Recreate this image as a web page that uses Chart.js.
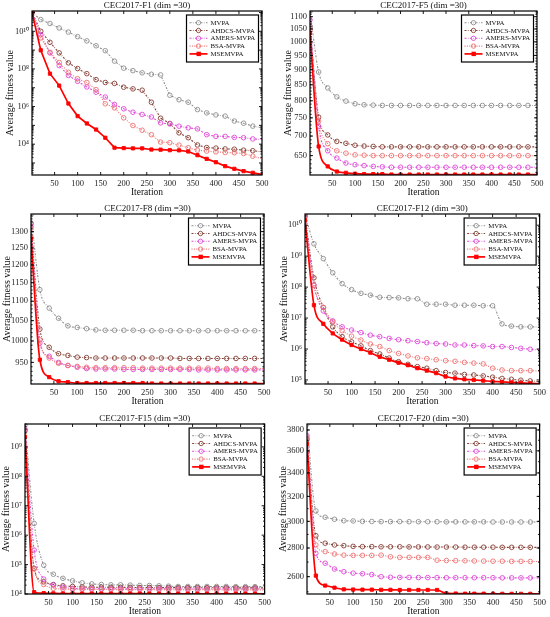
<!DOCTYPE html>
<html>
<head>
<meta charset="utf-8">
<script src="https://cdn.jsdelivr.net/npm/chart.js@4.4.1/dist/chart.umd.min.js"></script>
<style>
  body { margin: 0; background: #fff; width: 550px; height: 617px; position: relative; overflow: hidden; }
  canvas { position: absolute; }
</style>
</head>
<body>
<canvas id="c1" width="275" height="200" style="left:0;top:0"></canvas>
<canvas id="c2" width="275" height="200" style="left:275px;top:0"></canvas>
<canvas id="c3" width="275" height="208" style="left:0;top:200px"></canvas>
<canvas id="c4" width="275" height="208" style="left:275px;top:200px"></canvas>
<canvas id="c5" width="275" height="212" style="left:0;top:405px"></canvas>
<canvas id="c6" width="275" height="212" style="left:275px;top:405px"></canvas>
<script>
// ====== DATA ======
const iters = [1, 20, 40, 60, 80, 100, 120, 140, 160, 180, 200, 220, 240, 260, 280, 300, 320, 340, 360, 380, 400, 420, 440, 460, 480, 500]
const xTicks = [50, 100, 150, 200, 250, 300, 350, 400, 450, 500]
const algoNames = ['MVPA', 'AHDCS-MVPA', 'AMERS-MVPA', 'BSA-MVPA', 'MSEMVPA']

// F1
const f1Mvpa = [1e11, 4.2e10, 2.6e10, 1.5e10, 9.1e9, 5.2e9, 3.1e9, 1.7e9, 9.3e8, 2.6e8, 1.1e8, 8.1e7, 6.2e7, 5.2e7, 4.8e7, 4.0e6, 2.3e6, 1.7e6, 6.9e5, 4.6e5, 3.6e5, 3.1e5, 1.7e5, 1.3e5, 9.1e4, 7.4e4]
const f1Ahdcs = [1e11, 1e10, 2.6e9, 7.1e8, 2.1e8, 1.05e8, 5.6e7, 2.7e7, 1.9e7, 1.7e7, 1.07e7, 8.7e6, 7.4e6, 1.7e6, 2.4e5, 1.26e5, 4.0e4, 2.2e4, 9.1e3, 6.6e3, 6.2e3, 5.6e3, 5.4e3, 4.8e3, 4.5e3, 3.9e3]
const f1Amers = [1e11, 6.6e9, 7.1e8, 1.5e8, 4.5e7, 2.2e7, 1.1e7, 5.8e6, 3.2e6, 1.3e6, 7.6e5, 5.0e5, 3.8e5, 2.8e5, 1.35e5, 1.2e5, 9.1e4, 7.4e4, 6.5e4, 3.2e4, 2.6e4, 2.6e4, 2.3e4, 2.2e4, 1.9e4, 1.8e4]
const f1Bsa = [1e11, 4.5e9, 7.6e8, 2.2e8, 6.6e7, 3.0e7, 1.9e7, 7.9e6, 1.4e6, 8.5e5, 2.5e5, 9.8e4, 5.5e4, 3.2e4, 1.3e4, 1.2e4, 8.9e3, 6.5e3, 4.8e3, 4.3e3, 3.9e3, 3.6e3, 3.5e3, 3.2e3, 2.3e3, 1.7e3]
const f1Msem = [1e11, 9.8e8, 5.6e7, 1.3e7, 1.45e6, 3.1e5, 1.26e5, 6.0e4, 2.2e4, 6.5e3, 6.2e3, 6.0e3, 6.0e3, 5.2e3, 5.1e3, 4.8e3, 4.7e3, 4.1e3, 2.6e3, 1.66e3, 1.1e3, 680, 490, 370, 300, 245]
const f1YTicks = [1e4, 1e6, 1e8, 1e10]

// F5
const f5Mvpa = [1122, 892, 840, 812, 799, 791, 788, 787, 786, 786, 786, 786, 786, 786, 786, 786, 786, 786, 786, 786, 786, 786, 786, 786, 786, 786]
const f5Ahdcs = [1060, 752, 703, 686, 681, 676, 674, 673, 672, 672, 672, 672, 672, 672, 672, 672, 672, 672, 672, 672, 672, 672, 672, 672, 672, 672]
const f5Amers = [1087, 726, 662, 644, 632, 628, 626, 624, 623, 622, 622, 622, 622, 622, 622, 622, 622, 622, 622, 622, 622, 622, 622, 622, 622, 622]
const f5Bsa = [1045, 741, 680, 662, 656, 652, 651, 650, 650, 650, 650, 650, 650, 650, 650, 650, 650, 650, 650, 650, 650, 650, 650, 650, 650, 650]
const f5Msem = [1035, 673, 624, 612, 609, 607, 606, 606, 606, 605, 605, 605, 605, 605, 605, 605, 605, 605, 605, 605, 605, 605, 605, 605, 605, 605]
const f5YTicks = [650, 700, 750, 800, 850, 900, 950, 1000, 1050, 1100]

// F8
const f8Mvpa = [1353, 1131, 1082, 1056, 1037, 1033, 1030, 1027, 1026, 1026, 1026, 1026, 1025, 1025, 1025, 1025, 1025, 1025, 1025, 1025, 1025, 1025, 1025, 1025, 1025, 1025]
const f8Ahdcs = [1326, 1029, 985, 970, 966, 962, 961, 960, 960, 960, 960, 960, 960, 960, 960, 960, 959, 959, 959, 959, 959, 959, 959, 959, 959, 959]
const f8Amers = [1317, 995, 964, 950, 943, 939, 936, 935, 935, 935, 934, 934, 934, 934, 934, 934, 934, 934, 933, 933, 933, 933, 933, 933, 933, 933]
const f8Bsa = [1310, 1003, 960, 948, 943, 941, 939, 938, 938, 938, 938, 938, 937, 937, 937, 937, 937, 937, 937, 937, 936, 936, 936, 936, 936, 936]
const f8Msem = [1279, 956, 917, 908, 906, 904, 904, 904, 904, 904, 904, 904, 904, 903, 903, 903, 903, 903, 903, 903, 903, 903, 903, 903, 903, 903]
const f8YTicks = [950, 1000, 1050, 1100, 1150, 1200, 1250, 1300]

// F12
const f12Mvpa = [2.2e10, 2.5e9, 8.3e8, 2.9e8, 1.3e8, 8.3e7, 6.3e7, 5.5e7, 4.7e7, 4.6e7, 4.5e7, 4.2e7, 4.2e7, 2.8e7, 2.8e7, 2.8e7, 2.6e7, 2.6e7, 2.6e7, 2.5e7, 2.5e7, 6.5e6, 5.5e6, 5.2e6, 5.2e6, 5.1e6]
const f12Ahdcs = [1.95e10, 2.0e8, 2.2e7, 5.2e6, 2.5e6, 1.7e6, 1.26e6, 8.9e5, 6.9e5, 5.1e5, 3.9e5, 3.2e5, 2.7e5, 2.4e5, 2.0e5, 1.74e5, 1.66e5, 1.5e5, 1.45e5, 1.35e5, 1.23e5, 1.12e5, 1.05e5, 9.8e4, 9.3e4, 8.9e4]
const f12Amers = [1.95e10, 1.15e8, 1.7e7, 8.1e6, 5.2e6, 4.1e6, 3.4e6, 2.8e6, 2.5e6, 2.2e6, 2.0e6, 1.86e6, 1.74e6, 1.6e6, 1.5e6, 1.45e6, 1.35e6, 1.35e6, 1.29e6, 1.26e6, 1.2e6, 1.2e6, 1.12e6, 1.05e6, 9.8e5, 9.3e5]
const f12Bsa = [1.95e10, 1.15e8, 2.2e7, 7.6e6, 3.9e6, 2.6e6, 1.95e6, 1.45e6, 1.2e6, 8.9e5, 7.2e5, 6.0e5, 5.2e5, 4.9e5, 4.5e5, 4.2e5, 4.0e5, 3.7e5, 3.5e5, 3.3e5, 2.4e5, 2.1e5, 2.0e5, 2.0e5, 2.0e5, 1.9e5]
const f12Msem = [1.45e10, 2.6e7, 6.5e6, 3.2e6, 2.0e6, 1.35e6, 1.0e6, 7.6e5, 5.6e5, 4.5e5, 3.6e5, 3.0e5, 2.4e5, 2.0e5, 1.66e5, 1.29e5, 1.12e5, 1.05e5, 1.0e5, 9.5e4, 8.9e4, 8.7e4, 8.3e4, 8.1e4, 7.8e4, 7.6e4]
const f12YTicks = [1e5, 1e6, 1e7, 1e8, 1e9, 1e10]

// F15
const f15Mvpa = [5.5e9, 2.5e6, 9.5e4, 4.7e4, 3.4e4, 2.8e4, 2.4e4, 2.2e4, 2.1e4, 2.05e4, 2.05e4, 2.0e4, 1.95e4, 1.95e4, 1.9e4, 1.85e4, 1.8e4, 1.8e4, 1.8e4, 1.8e4, 1.8e4, 1.8e4, 1.78e4, 1.78e4, 1.78e4, 1.77e4]
const f15Ahdcs = [3.7e9, 7.4e4, 2.6e4, 2.1e4, 1.9e4, 1.8e4, 1.74e4, 1.7e4, 1.7e4, 1.68e4, 1.68e4, 1.67e4, 1.66e4, 1.66e4, 1.65e4, 1.65e4, 1.64e4, 1.64e4, 1.64e4, 1.63e4, 1.63e4, 1.63e4, 1.62e4, 1.62e4, 1.62e4, 1.62e4]
const f15Amers = [4.0e9, 3.1e5, 3.2e4, 2.0e4, 1.7e4, 1.55e4, 1.5e4, 1.5e4, 1.5e4, 1.5e4, 1.5e4, 1.49e4, 1.49e4, 1.49e4, 1.49e4, 1.49e4, 1.48e4, 1.48e4, 1.48e4, 1.48e4, 1.48e4, 1.48e4, 1.48e4, 1.48e4, 1.48e4, 1.48e4]
const f15Bsa = [3.4e9, 7.1e4, 2.1e4, 1.55e4, 1.48e4, 1.45e4, 1.44e4, 1.43e4, 1.42e4, 1.42e4, 1.41e4, 1.41e4, 1.4e4, 1.4e4, 1.4e4, 1.4e4, 1.39e4, 1.39e4, 1.39e4, 1.39e4, 1.39e4, 1.38e4, 1.38e4, 1.38e4, 1.38e4, 1.38e4]
const f15Msem = [2.2e9, 1.15e4, 1.07e4, 1.05e4, 1.04e4, 1.04e4, 1.03e4, 1.03e4, 1.03e4, 1.03e4, 1.03e4, 1.03e4, 1.03e4, 1.02e4, 1.02e4, 1.02e4, 1.02e4, 1.02e4, 1.02e4, 1.02e4, 1.02e4, 1.02e4, 1.02e4, 1.02e4, 1.02e4, 1.02e4]
const f15YTicks = [1e4, 1e5, 1e6, 1e7, 1e8, 1e9]

// F20
const f20Mvpa = [3859, 3082, 3032, 3016, 3005, 3003, 3000, 2999, 2998, 2998, 2998, 2997, 2997, 2997, 2997, 2996, 2996, 2996, 2996, 2996, 2995, 2995, 2995, 2995, 2995, 2995]
const f20Ahdcs = [3709, 2891, 2835, 2822, 2817, 2812, 2810, 2810, 2809, 2809, 2809, 2808, 2808, 2808, 2807, 2807, 2807, 2806, 2806, 2806, 2806, 2805, 2805, 2805, 2805, 2805]
const f20Amers = [3744, 2762, 2692, 2652, 2634, 2624, 2620, 2614, 2600, 2596, 2595, 2595, 2594, 2594, 2594, 2593, 2593, 2593, 2593, 2593, 2593, 2592, 2592, 2592, 2592, 2592]
const f20Bsa = [3720, 2822, 2774, 2757, 2749, 2747, 2747, 2747, 2749, 2737, 2733, 2733, 2733, 2733, 2713, 2711, 2710, 2709, 2708, 2707, 2706, 2706, 2705, 2705, 2704, 2704]
const f20Msem = [3665, 2607, 2541, 2527, 2516, 2515, 2514, 2514, 2513, 2513, 2512, 2512, 2512, 2512, 2512, 2490, 2489, 2488, 2488, 2488, 2487, 2487, 2487, 2487, 2487, 2487]
const f20YTicks = [2600, 2800, 3000, 3200, 3400, 3600, 3800]

// ====== STYLE ======
const SERIF = "'Liberation Serif', 'Times New Roman', serif"
Chart.defaults.font.family = SERIF
Chart.defaults.color = '#1f1f1f'

const seriesStyle = [
    { color: '#8e8e8e', dash: [2, 1.4, 0.7, 1.4], width: 1.1, point: 'circle', filled: false },
    { color: '#874238', dash: [2, 1.4, 0.7, 1.4], width: 1.1, point: 'circle', filled: false },
    { color: '#e04ad8', dash: [2, 1.4, 0.7, 1.4], width: 1.1, point: 'circle', filled: false },
    { color: '#f07474', dash: [1, 1.4], width: 1.1, point: 'circle', filled: false },
    { color: '#ff0000', dash: [], width: 1.7, point: 'rect', filled: true },
]

const SUP = { 0: '⁰', 1: '¹', 2: '²', 3: '³', 4: '⁴', 5: '⁵', 6: '⁶', 7: '⁷', 8: '⁸', 9: '⁹' }
const powLabel = (v) => '10' + String(Math.round(Math.log10(v))).split('').map((d) => SUP[d]).join('')

// ====== PANELS ======
const panels = [
    { id: 'c1', title: 'CEC2017-F1 (dim =30)', series: [f1Mvpa, f1Ahdcs, f1Amers, f1Bsa, f1Msem],
      yMin: 230, yMax: 1.2e11, yTicks: f1YTicks, decades: true, smooth: false,
      area: { l: 32, r: 262, t: 11, b: 175 }, yTitleX: 10 },
    { id: 'c2', title: 'CEC2017-F5 (dim =30)', series: [f5Mvpa, f5Ahdcs, f5Amers, f5Bsa, f5Msem],
      yMin: 604, yMax: 1124, yTicks: f5YTicks, minorStep: 10, smooth: true,
      area: { l: 35, r: 262, t: 11, b: 175 }, yTitleX: 13 },
    { id: 'c3', title: 'CEC2017-F8 (dim =30)', series: [f8Mvpa, f8Ahdcs, f8Amers, f8Bsa, f8Msem],
      yMin: 902, yMax: 1356, yTicks: f8YTicks, minorStep: 10, smooth: true,
      area: { l: 31, r: 264, t: 14, b: 184 }, yTitleX: 7 },
    { id: 'c4', title: 'CEC2017-F12 (dim =30)', series: [f12Mvpa, f12Ahdcs, f12Amers, f12Bsa, f12Msem],
      yMin: 7.4e4, yMax: 2.3e10, yTicks: f12YTicks, decades: true, smooth: true,
      area: { l: 30, r: 266, t: 14, b: 184 }, yTitleX: 9 },
    { id: 'c5', title: 'CEC2017-F15 (dim =30)', series: [f15Mvpa, f15Ahdcs, f15Amers, f15Bsa, f15Msem],
      yMin: 1e4, yMax: 6e9, yTicks: f15YTicks, decades: true, smooth: true,
      area: { l: 25, r: 266, t: 19, b: 189 }, yTitleX: 6 },
    { id: 'c6', title: 'CEC2017-F20 (dim =30)', series: [f20Mvpa, f20Ahdcs, f20Amers, f20Bsa, f20Msem],
      yMin: 2486, yMax: 3859, yTicks: f20YTicks, minorStep: 100, smooth: true,
      area: { l: 32, r: 266, t: 19, b: 189 }, yTitleX: 8 },
]

// ====== MATLAB-LIKE FRAME, TICKS, TITLES, LEGEND ======
const matlabFrame = {
    id: 'matlabFrame',
    afterDraw(chart) {
        const p = chart.options.plugins.matlabFrame
        const { ctx, chartArea: a } = chart
        const x = chart.scales.x
        const y = chart.scales.y
        ctx.save()
        ctx.strokeStyle = '#000'
        ctx.lineWidth = 0.9

        const tickX = (v, len) => {
            const px = x.getPixelForValue(v)
            ctx.beginPath()
            ctx.moveTo(px, a.bottom); ctx.lineTo(px, a.bottom - len)
            ctx.moveTo(px, a.top); ctx.lineTo(px, a.top + len)
            ctx.stroke()
        }
        const tickY = (v, len) => {
            if (v < p.yMin || v > p.yMax) return
            const py = y.getPixelForValue(v)
            ctx.beginPath()
            ctx.moveTo(a.left, py); ctx.lineTo(a.left + len, py)
            ctx.moveTo(a.right, py); ctx.lineTo(a.right - len, py)
            ctx.stroke()
        }
        xTicks.forEach((v) => tickX(v, 3))
        if (p.decades) {
            const e0 = Math.floor(Math.log10(p.yMin))
            const e1 = Math.ceil(Math.log10(p.yMax))
            for (let e = e0; e <= e1; e++) {
                for (let k = 1; k <= 9; k++) tickY(k * Math.pow(10, e), k === 1 ? 3 : 1.6)
            }
        } else {
            p.yTicks.forEach((v) => tickY(v, 3))
            for (let v = Math.ceil(p.yMin / p.minorStep) * p.minorStep; v <= p.yMax; v += p.minorStep) tickY(v, 1.6)
        }

        // box
        ctx.lineWidth = 1.2
        ctx.strokeRect(a.left, a.top, a.right - a.left, a.bottom - a.top)

        // titles
        ctx.fillStyle = '#111'
        ctx.textAlign = 'center'
        ctx.textBaseline = 'alphabetic'
        ctx.font = `9px ${SERIF}`
        ctx.fillText(p.title, (a.left + a.right) / 2, a.top - 3)
        ctx.textBaseline = 'middle'
        ctx.font = `9.5px ${SERIF}`
        ctx.fillText('Iteration', (a.left + a.right) / 2, a.bottom + 17)
        ctx.save()
        ctx.translate(p.yTitleX, (a.top + a.bottom) / 2)
        ctx.rotate(-Math.PI / 2)
        ctx.font = `10px ${SERIF}`
        ctx.fillText('Average fitness value', 0, 0)
        ctx.restore()

        // legend
        const lw = 72, lh = 47
        const lx = a.right - 3.5 - lw
        const ly = a.top + 4
        ctx.fillStyle = '#fff'
        ctx.fillRect(lx, ly, lw, lh)
        ctx.lineWidth = 1.2
        ctx.strokeStyle = '#000'
        ctx.strokeRect(lx, ly, lw, lh)
        chart.data.datasets.forEach((ds, i) => {
            const yy = ly + 7.7 + i * 7.8
            ctx.save()
            ctx.strokeStyle = ds.borderColor
            ctx.lineWidth = ds.borderWidth
            ctx.setLineDash(ds.borderDash)
            ctx.beginPath()
            ctx.moveTo(lx + 3, yy); ctx.lineTo(lx + 21, yy)
            ctx.stroke()
            ctx.setLineDash([])
            ctx.lineWidth = 0.9
            if (ds.pointStyle === 'rect') {
                ctx.fillStyle = ds.borderColor
                ctx.fillRect(lx + 10, yy - 2.2, 4.4, 4.4)
            } else {
                ctx.beginPath()
                ctx.arc(lx + 12, yy, 2.2, 0, Math.PI * 2)
                ctx.stroke()
            }
            ctx.fillStyle = '#111'
            ctx.font = `6.8px ${SERIF}`
            ctx.textAlign = 'left'
            ctx.textBaseline = 'middle'
            ctx.fillText(ds.label, lx + 24, yy + 0.3)
            ctx.restore()
        })
        ctx.restore()
    },
}

// ====== BUILD CHARTS ======
panels.forEach((p) => {
    const canvas = document.getElementById(p.id)
    const n = iters.length
    const datasets = p.series.map((vals, i) => {
        const s = seriesStyle[i]
        return {
            label: algoNames[i],
            data: iters.map((it, k) => ({ x: it, y: vals[k] })),
            borderColor: s.color,
            borderWidth: s.width,
            borderDash: s.dash,
            pointStyle: s.point,
            pointRadius: (c) => (c.dataIndex === n - 1 ? 0 : 2.3),
            pointBorderWidth: 0.9,
            pointBorderColor: s.color,
            pointBackgroundColor: s.filled ? s.color : 'rgba(255,255,255,0)',
            cubicInterpolationMode: p.smooth ? 'monotone' : 'default',
            tension: 0,
            order: seriesStyle.length - i,
        }
    })
    new Chart(canvas, {
        type: 'line',
        data: { datasets },
        options: {
            responsive: false,
            animation: false,
            events: [],
            layout: { padding: { left: 0, top: p.area.t, right: canvas.width - p.area.r, bottom: 0 } },
            scales: {
                x: {
                    type: 'linear',
                    min: 1,
                    max: 500,
                    afterBuildTicks: (s) => { s.ticks = xTicks.map((v) => ({ value: v })) },
                    afterFit: (s) => { s.height = canvas.height - p.area.b },
                    grid: { display: false, drawTicks: false },
                    border: { display: false },
                    ticks: { autoSkip: false, maxRotation: 0, padding: 4, font: { size: 8.5 }, color: '#1f1f1f' },
                },
                y: {
                    type: 'logarithmic',
                    min: p.yMin,
                    max: p.yMax,
                    afterBuildTicks: (s) => { s.ticks = p.yTicks.map((v) => ({ value: v })) },
                    afterFit: (s) => { s.width = p.area.l },
                    grid: { display: false, drawTicks: false },
                    border: { display: false },
                    ticks: {
                        autoSkip: false,
                        padding: 3,
                        font: { size: 8.5 },
                        color: '#1f1f1f',
                        callback: (v) => (p.decades ? powLabel(v) : String(v)),
                    },
                },
            },
            plugins: {
                legend: { display: false },
                tooltip: { enabled: false },
                matlabFrame: p,
            },
        },
        plugins: [matlabFrame],
    })
})
</script>
</body>
</html>
